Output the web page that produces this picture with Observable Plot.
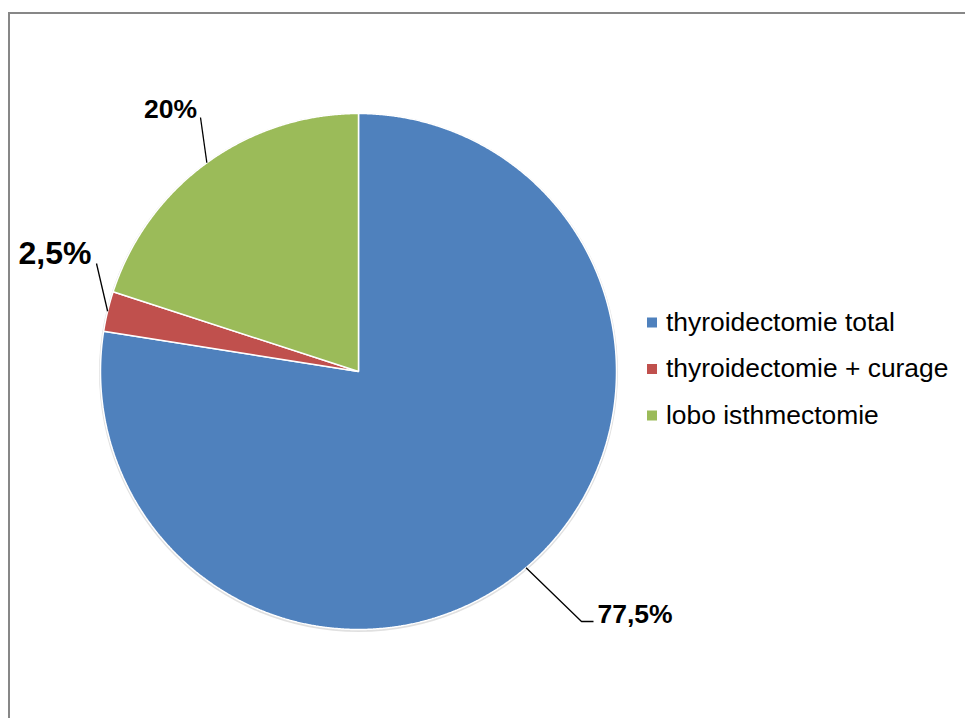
<!DOCTYPE html>
<html>
<head>
<meta charset="utf-8">
<script src="https://cdn.jsdelivr.net/npm/d3@7"></script>
<script src="https://cdn.jsdelivr.net/npm/@observablehq/plot@0.6"></script>
<style>
  html, body { margin: 0; padding: 0; background: #fff; overflow: hidden; }
  #frame {
    position: absolute; left: 8px; top: 12px;
    width: 1100px; height: 900px;
    border: 2px solid #878787; box-sizing: border-box;
  }
  #chart { position: absolute; left: 0; top: 0; }
</style>
</head>
<body>
<div id="frame"></div>
<div id="chart"></div>
<script>
// Répartition des gestes chirurgicaux
const categories = ["thyroidectomie total", "thyroidectomie + curage", "lobo isthmectomie"];
const shares = [77.5, 2.5, 20];
const valueLabels = ["77,5%", "2,5%", "20%"];
const colors = ["#4F81BD", "#C0504D", "#9BBB59"];

// Geometry of the pie (pixels)
const CX = 358, CY = 371, R = 258;
const polar = (a, r) => [CX + r * Math.sin(a), CY - r * Math.cos(a)];

const arcs = d3.pie().sort(null).value(d => d)(shares);

// Slice outlines: centre -> arc -> centre, following the pie angles
const slicePoints = [];
arcs.forEach((a, i) => {
  const key = categories[i];
  slicePoints.push({key, x: CX, y: CY});
  const steps = Math.max(2, Math.ceil((a.endAngle - a.startAngle) / (Math.PI / 720)));
  for (let s = 0; s <= steps; ++s) {
    const t = a.startAngle + (a.endAngle - a.startAngle) * s / steps;
    const [x, y] = polar(t, R);
    slicePoints.push({key, x, y});
  }
  slicePoints.push({key, x: CX, y: CY});
});

// Placement of the value labels: leader elbow points and text anchor
const labelLayout = [
  {via: [[581, 621], [593, 621]], at: [597, 622], anchor: "start", size: 26.5},
  {via: [[96, 263]], at: [91, 263], anchor: "end", size: 32},
  {via: [[200, 117]], at: [196.5, 117], anchor: "end", size: 26.5}
];

const leaderPoints = [];
const labelRows = [];
arcs.forEach((a, i) => {
  const mid = (a.startAngle + a.endAngle) / 2;
  const lay = labelLayout[i];
  const [x, y] = polar(mid, R);
  leaderPoints.push({key: categories[i], x, y});
  lay.via.forEach(([vx, vy]) => leaderPoints.push({key: categories[i], x: vx, y: vy}));
  labelRows.push({text: valueLabels[i], x: lay.at[0], y: lay.at[1], anchor: lay.anchor, size: lay.size});
});

// Legend rows
const legendX = 647, legendTextX = 665.5, legendTop = 330, legendStep = 46.5, sw = 10;
const legendRows = categories.map((c, i) => ({key: c, y: legendTop + i * legendStep}));

const chart = Plot.plot({
  width: 965,
  height: 718,
  margin: 0,
  x: {type: "linear", domain: [0, 965], range: [0, 965], axis: null},
  y: {type: "linear", domain: [0, 718], range: [0, 718], axis: null},
  color: {domain: categories, range: colors},
  style: {fontFamily: "'Liberation Sans', Arial, sans-serif", background: "transparent", color: "#000"},
  marks: [
    // soft shadow under the pie
    Plot.dot([{x: CX, y: CY + 1}], {x: "x", y: "y", r: R + 1.5, fill: "#000", fillOpacity: 0.12, stroke: null}),
    Plot.line(slicePoints, {
      x: "x", y: "y", z: "key",
      fill: "key", stroke: "white", strokeWidth: 1.5,
      strokeLinejoin: "miter", curve: "linear-closed"
    }),
    Plot.line(leaderPoints, {
      x: "x", y: "y", z: "key",
      stroke: "#000", strokeWidth: 1.3, strokeLinecap: "butt", strokeLinejoin: "miter"
    }),
    ...labelRows.map(r => Plot.text([r], {
      x: "x", y: "y", text: "text",
      textAnchor: r.anchor, lineAnchor: "bottom",
      fontSize: r.size, fontWeight: "bold", fill: "#000"
    })),
    Plot.rect(legendRows, {
      x1: legendX, x2: legendX + sw,
      y1: d => d.y - 7.5 - sw / 2, y2: d => d.y - 7.5 + sw / 2,
      fill: "key"
    }),
    Plot.text(legendRows, {
      x: legendTextX, y: "y", text: "key",
      textAnchor: "start", lineAnchor: "bottom",
      fontSize: 26.4, fill: "#000"
    })
  ]
});

document.getElementById("chart").appendChild(chart);
</script>
</body>
</html>
